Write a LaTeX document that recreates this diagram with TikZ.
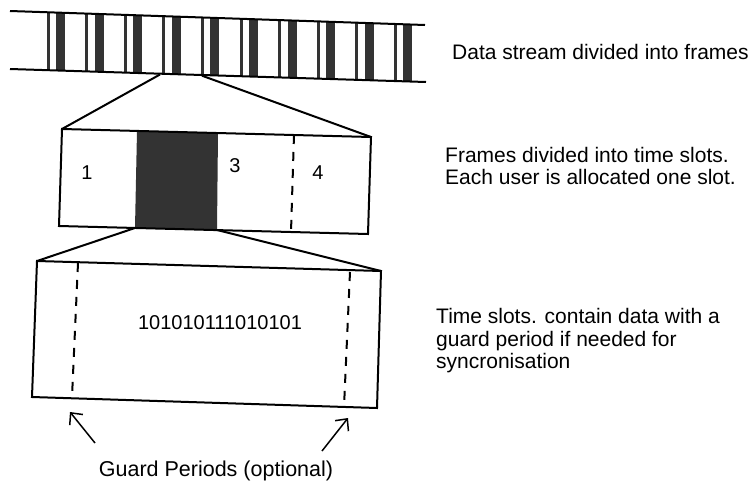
\documentclass[tikz,border=0pt]{standalone}
\usepackage{fontspec}
\setmainfont{Liberation Sans}
\usetikzlibrary{arrows.meta}

\begin{document}
\begin{tikzpicture}[x=1pt, y=-1pt, >={Straight Barb[length=9pt, width=17pt]},
    edge/.style={line width=2pt, line join=miter},
    guard/.style={line width=2pt, dash pattern=on 9pt off 8pt},
    bar/.style={fill=black!80},
    caption/.style={anchor=west, align=left, inner sep=0pt, font=\fontsize{21}{22.5}\selectfont},
    slotnum/.style={inner sep=0pt, font=\fontsize{20}{22}\selectfont}]

    \useasboundingbox (0,0) rectangle (756,482);

    %% data stream
    \coordinate (sTL) at (10,11);
    \coordinate (sTR) at (425,25);
    \coordinate (sBR) at (426,82);
    \coordinate (sBL) at (10,69);
    \begin{scope}
      \clip (sTL) -- (sTR) -- (sBR) -- (sBL) -- cycle;
      \foreach \i in {0,...,9} {
        \fill[bar] ({46.5+38.6*\i},0) rectangle +(3,90);
        \fill[bar] ({56+38.6*\i},0) rectangle +(9,90);
      }
    \end{scope}
    \draw[edge] (sTL) -- (sTR);
    \draw[edge] (sBL) -- (sBR);
    \node[caption] (capstream) at (452,52) {Data stream divided into frames};

    %% frame
    \coordinate (fTL) at (62,129);
    \coordinate (fTR) at (371,137);
    \coordinate (fBR) at (368,234);
    \coordinate (fBL) at (59,226);
    % slot 2 (dark)
    \coordinate (dTL) at (137,131);
    \coordinate (dTR) at (218,133);
    \coordinate (dBR) at (217,230);
    \coordinate (dBL) at (135,228);
    \fill[bar] (dTL) -- (dTR) -- (dBR) -- (dBL) -- cycle;
    \draw[edge] (fTL) -- (fTR) -- (fBR) -- (fBL) -- cycle;
    \coordinate (g4t) at (294,135);
    \coordinate (g4b) at (291,232);
    \draw[guard] (g4t) -- (g4b);
    \node[slotnum] (n1) at (87,173) {1};
    \node[slotnum] (n3) at (235,166) {3};
    \node[slotnum] (n4) at (318,173) {4};
    \node[caption] (capframe) at (445,166) {Frames divided into time slots.\\Each user is allocated one slot.};

    % zoom from stream to frame
    \coordinate (zA) at (160,74.5);
    \coordinate (zB) at (202,75.7);
    \draw[edge] (zA) -- (fTL);
    \draw[edge] (zB) -- (fTR);

    %% time slot
    \coordinate (tTL) at (37,261);
    \coordinate (tTR) at (381,271);
    \coordinate (tBR) at (377,408);
    \coordinate (tBL) at (32,397);
    \draw[edge] (tTL) -- (tTR) -- (tBR) -- (tBL) -- cycle;
    \coordinate (gLt) at (78,263);
    \coordinate (gLb) at (72,397);
    \coordinate (gRt) at (350,272);
    \coordinate (gRb) at (344,407);
    \draw[guard] (gLt) -- (gLb);
    \draw[guard] (gRt) -- (gRb);
    \node[inner sep=0pt, font=\fontsize{20}{22}\selectfont] (bits) at (220,323) {101010111010101};
    \node[caption] (capslot) at (436,341) {Time slots. contain data with a\\guard period if needed for\\syncronisation};

    % zoom from slot to time slot
    \draw[edge] (dBL) -- (tTL);
    \draw[edge] (dBR) -- (tTR);

    %% guard periods
    \node[inner sep=0pt, font=\fontsize{21.5}{22}\selectfont] (gp) at (216,471) {Guard Periods (optional)};
    \coordinate (aL) at (95,443);
    \coordinate (aLtip) at (70,412);
    \coordinate (aR) at (322,451);
    \coordinate (aRtip) at (348,418);
    \draw[->, line width=1.5pt] (aL) -- (aLtip);
    \draw[->, line width=1.5pt] (aR) -- (aRtip);

  \end{tikzpicture}
\end{document}
